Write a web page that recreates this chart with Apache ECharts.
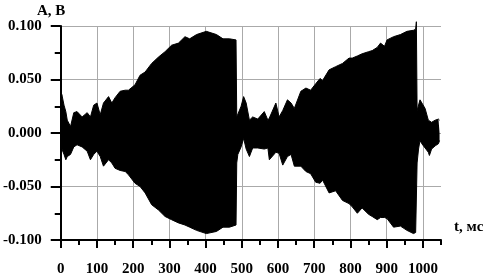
<!DOCTYPE html>
<html>
<head>
<meta charset="utf-8">
<script src="https://cdn.jsdelivr.net/npm/echarts@6/dist/echarts.min.js"></script>
<style>
html,body{margin:0;padding:0;background:#fff;}
#chart{width:488px;height:279px;}
</style>
</head>
<body>
<div id="chart"></div>
<script>
// Time points (ms) at which the signal envelope was read
var times = [0, 3, 9, 14, 18, 27, 36, 45, 59, 73, 82, 91, 100, 109, 118, 132, 141, 150, 164, 178, 187, 205, 219, 233, 251, 270, 288, 306, 325, 343, 356, 375, 402, 430, 448, 466, 484, 486, 489, 498, 505, 512, 521, 530, 544, 562, 572, 576, 594, 603, 613, 626, 636, 645, 663, 677, 690, 704, 716, 723, 741, 759, 778, 796, 805, 819, 832, 850, 860, 874, 883, 894, 901, 919, 938, 956, 974, 980, 982, 984, 988, 992, 997, 1006, 1015, 1018, 1024, 1034, 1043, 1046];
// Upper envelope (V)
var upper = [0.030, 0.036, 0.026, 0.020, 0.012, 0.006, 0.019, 0.020, 0.015, 0.019, 0.015, 0.026, 0.028, 0.017, 0.028, 0.034, 0.028, 0.033, 0.039, 0.040, 0.040, 0.045, 0.054, 0.057, 0.065, 0.071, 0.076, 0.082, 0.084, 0.090, 0.088, 0.092, 0.095, 0.092, 0.088, 0.088, 0.087, 0.015, 0.015, 0.025, 0.034, 0.028, 0.012, 0.015, 0.013, 0.020, 0.012, 0.014, 0.028, 0.015, 0.021, 0.031, 0.028, 0.023, 0.039, 0.042, 0.040, 0.046, 0.051, 0.049, 0.059, 0.062, 0.065, 0.070, 0.070, 0.072, 0.074, 0.076, 0.077, 0.080, 0.084, 0.081, 0.087, 0.090, 0.092, 0.095, 0.096, 0.097, 0.104, 0.021, 0.021, 0.031, 0.031, 0.023, 0.012, 0.012, 0.010, 0.012, 0.013, 0.012];
// Lower envelope (V)
var lower = [-0.010, -0.015, -0.020, -0.025, -0.022, -0.020, -0.013, -0.011, -0.013, -0.017, -0.025, -0.020, -0.017, -0.022, -0.031, -0.025, -0.028, -0.033, -0.035, -0.036, -0.039, -0.047, -0.050, -0.056, -0.067, -0.072, -0.078, -0.081, -0.084, -0.086, -0.088, -0.091, -0.094, -0.092, -0.088, -0.088, -0.086, -0.028, -0.020, -0.013, -0.005, -0.015, -0.022, -0.014, -0.014, -0.015, -0.014, -0.025, -0.018, -0.019, -0.030, -0.022, -0.020, -0.031, -0.031, -0.036, -0.038, -0.046, -0.047, -0.044, -0.056, -0.054, -0.063, -0.066, -0.069, -0.075, -0.070, -0.076, -0.078, -0.081, -0.079, -0.079, -0.080, -0.088, -0.087, -0.091, -0.094, -0.093, -0.093, -0.028, -0.015, -0.007, -0.010, -0.014, -0.018, -0.021, -0.015, -0.012, -0.010, -0.007];

var fontFam = '"Liberation Serif", "DejaVu Serif", serif';

var chart = echarts.init(document.getElementById('chart'), null, {renderer: 'canvas'});
var labelStyle = {fontFamily: fontFam, fontWeight: 'bold', fontSize: 15, color: '#000'};

chart.setOption({
  animation: false,
  backgroundColor: '#fff',
  grid: {left: 59, right: 47, top: 26, bottom: 39, containLabel: false},
  xAxis: [{
    type: 'value', min: 0, max: 1050, interval: 100,
    axisLine: {show: true, onZero: false, lineStyle: {color: '#000', width: 2}},
    axisTick: {show: true, length: 8, lineStyle: {color: '#000', width: 2}},
    splitLine: {show: true, showMaxLine: false, lineStyle: {color: '#aaa', width: 1}},
    axisLabel: Object.assign({margin: 22, showMaxLabel: false,
      formatter: function (v) { return (v % 100 === 0) ? String(v) : ''; }}, labelStyle)
  }, {
    type: 'value', min: 0, max: 1050, interval: 50, position: 'bottom',
    axisLine: {show: false, onZero: false},
    axisTick: {show: true, length: 5, lineStyle: {color: '#000', width: 2}},
    splitLine: {show: false},
    axisLabel: {show: false}
  }],
  yAxis: {
    type: 'value', min: -0.1, max: 0.1, interval: 0.05,
    axisLine: {show: true, onZero: false, lineStyle: {color: '#000', width: 2}},
    axisTick: {show: true, length: 10, lineStyle: {color: '#000', width: 2}},
    minorTick: {show: true, splitNumber: 2, length: 6, lineStyle: {color: '#000', width: 2}},
    splitLine: {show: true, lineStyle: {color: '#aaa', width: 1}},
    axisLabel: Object.assign({margin: 19,
      formatter: function (v) { return (Math.abs(v) < 1e-9 ? 0 : v).toFixed(3); }}, labelStyle)
  },
  graphic: [
    {type: 'text', left: 37, top: 4, style: {text: 'A, B', font: 'bold 15px ' + fontFam, fill: '#000'}},
    {type: 'text', left: 454, top: 220, style: {text: 't, мс', font: 'bold 15px ' + fontFam, fill: '#000'}}
  ],
  series: [
    {
      type: 'line', showSymbol: false, clip: false, z: 3, xAxisIndex: 0,
      data: times.map(function (t, i) { return [t, upper[i]]; }),
      lineStyle: {color: '#000', width: 1},
      areaStyle: {color: '#000', opacity: 1, origin: 0}
    },
    {
      type: 'line', showSymbol: false, clip: false, z: 3, xAxisIndex: 0,
      data: times.map(function (t, i) { return [t, lower[i]]; }),
      lineStyle: {color: '#000', width: 1},
      areaStyle: {color: '#000', opacity: 1, origin: 0}
    }
  ]
});
</script>
</body>
</html>
